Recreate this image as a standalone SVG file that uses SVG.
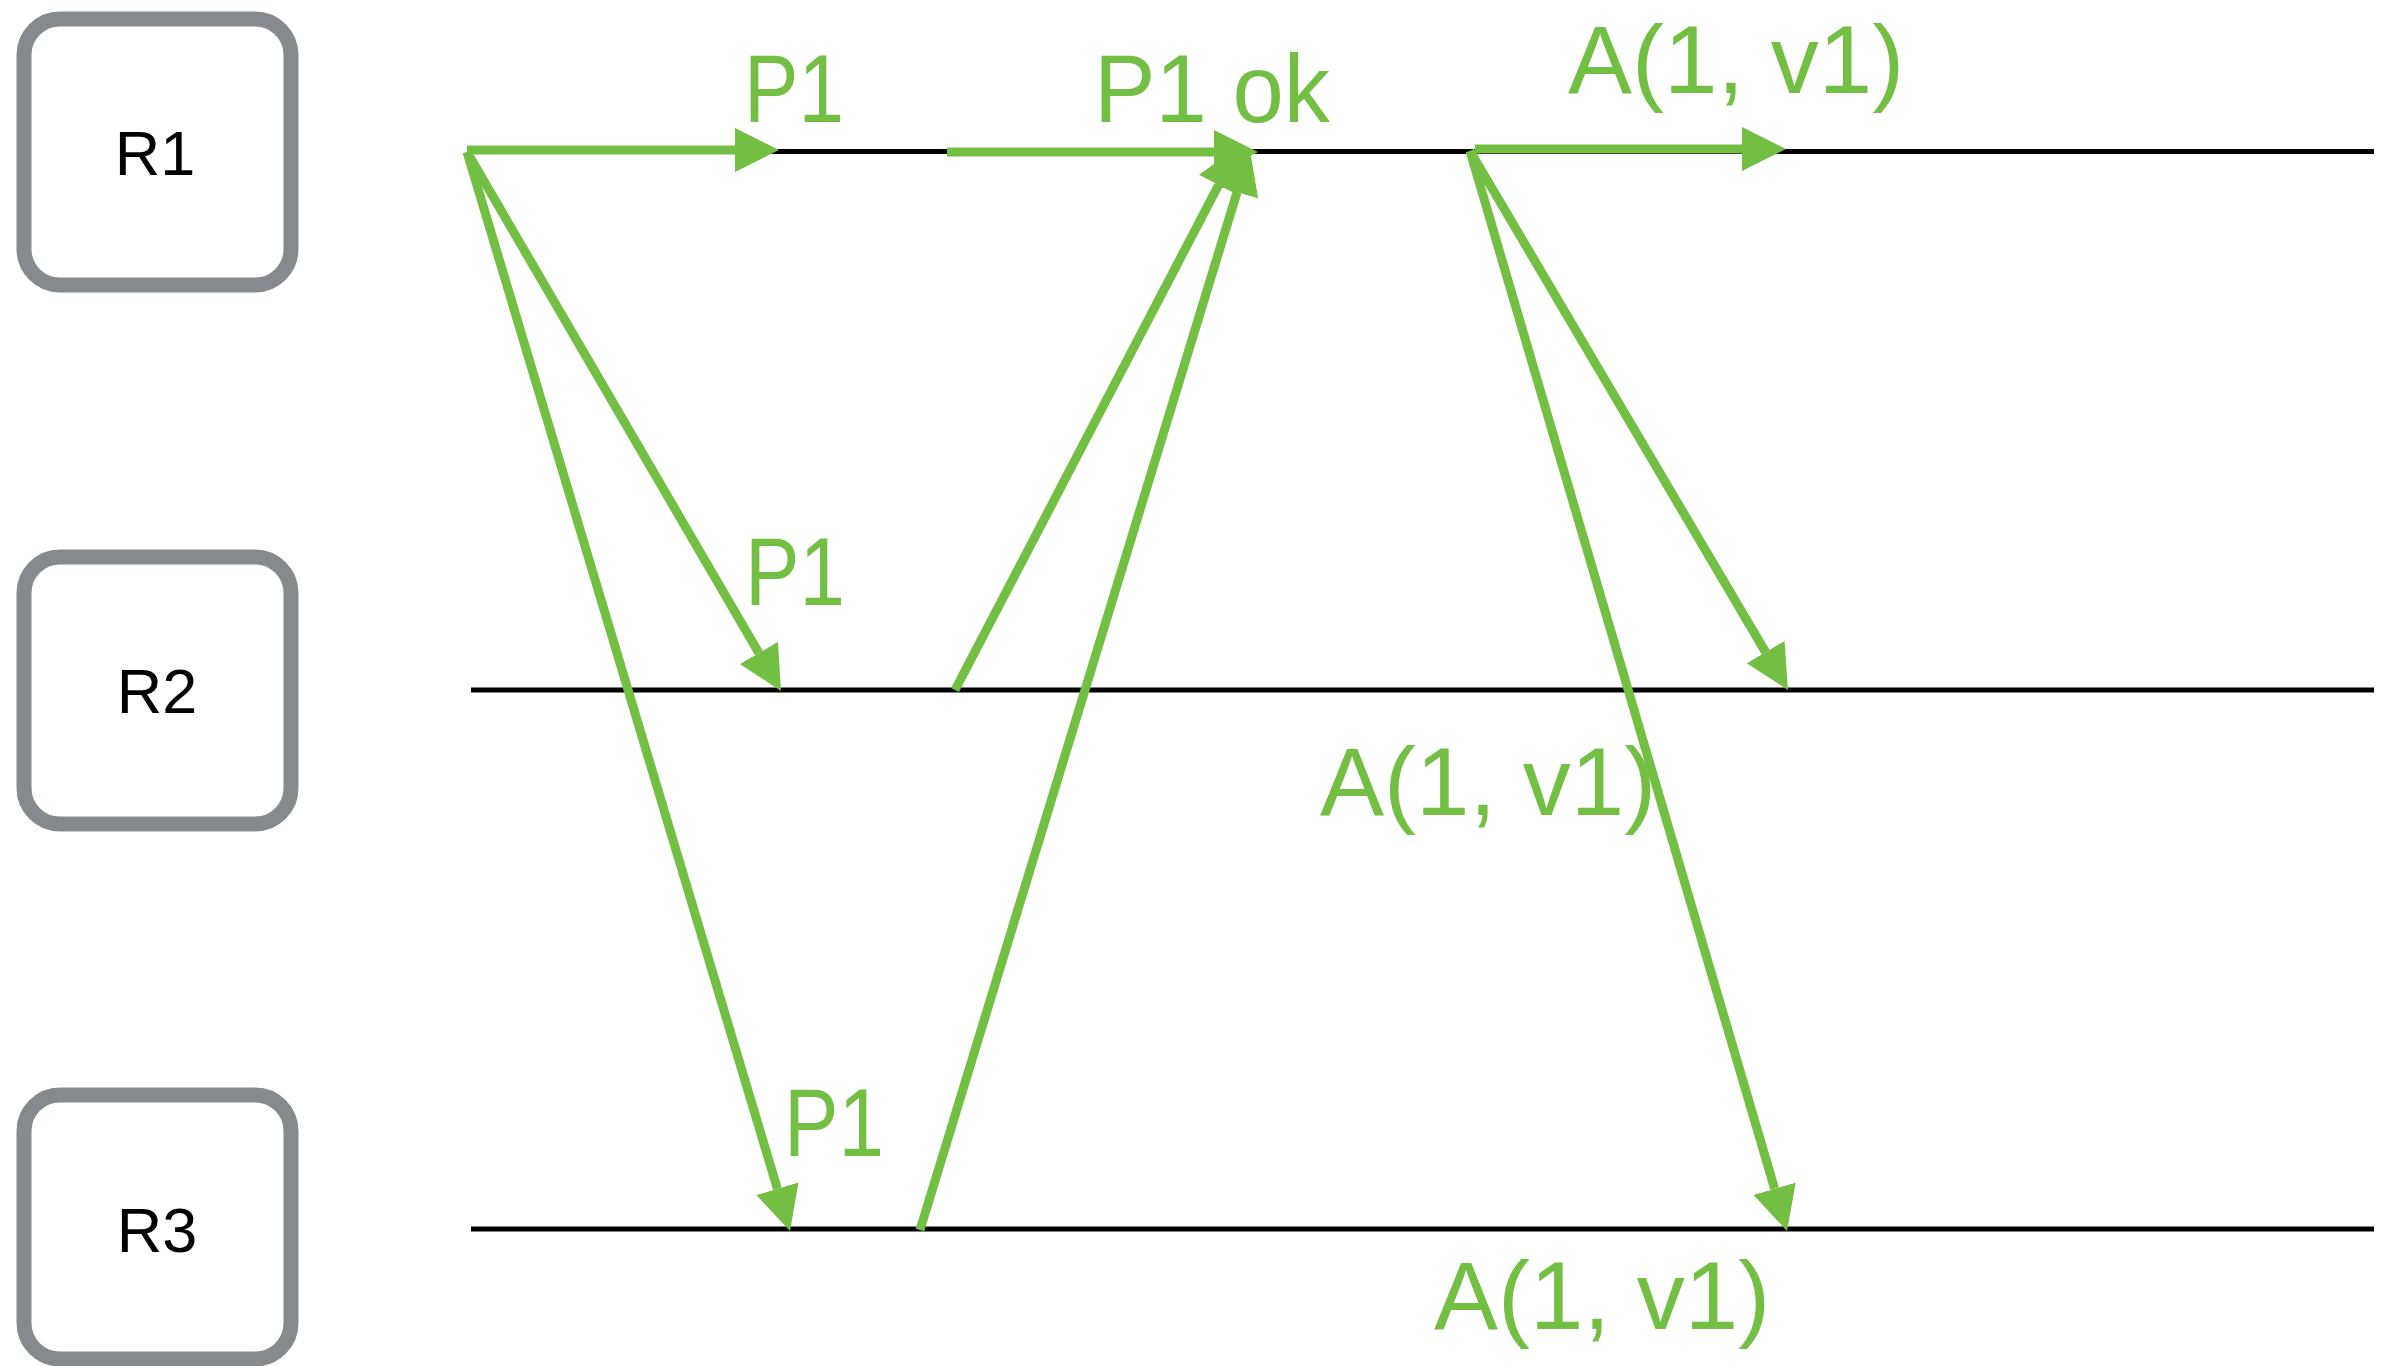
<svg xmlns="http://www.w3.org/2000/svg" width="2389" height="1366" viewBox="0 0 2389 1366">
<style>
.box{fill:#fff;stroke:#86898d;stroke-width:15}
.nl{font-family:"Liberation Sans",Arial,sans-serif;font-size:63px;fill:#000;text-anchor:middle}
.tl{stroke:#000;stroke-width:5;fill:none}
.msg{stroke:#72bf44;stroke-width:9;fill:none;marker-end:url(#ah)}
.lbl{font-family:"Liberation Sans",Arial,sans-serif;font-size:96px;fill:#72bf44}
</style>
<defs>
<marker id="ah" markerUnits="userSpaceOnUse" viewBox="0 -22 44 44" refX="0" refY="0" markerWidth="44" markerHeight="44" orient="auto">
<path d="M0,-22 L44,0 L0,22 Z" fill="#72bf44"/>
</marker>
</defs>
<rect width="2389" height="1366" fill="#fff"/>
<g id="R1"><rect class="box" x="24" y="19" width="267" height="266" rx="36"/><text class="nl" x="155" y="175">R1</text></g>
<g id="R2"><rect class="box" x="24" y="557" width="267" height="267" rx="36"/><text class="nl" x="157" y="713">R2</text></g>
<g id="R3"><rect class="box" x="24" y="1095" width="267" height="264" rx="36"/><text class="nl" x="157" y="1252">R3</text></g>
<g id="timelines">
<line class="tl" x1="469" y1="151.5" x2="2374" y2="151.5"/>
<line class="tl" x1="471" y1="690" x2="2374" y2="690"/>
<line class="tl" x1="471" y1="1229" x2="2374" y2="1229"/>
</g>
<g id="connectors">
<line class="msg" x1="467" y1="150" x2="735" y2="150"/>
<line class="msg" x1="467" y1="152" x2="758.9" y2="653"/>
<line class="msg" x1="467" y1="152" x2="777.4" y2="1188.8"/>
<line class="msg" x1="947" y1="152" x2="1214" y2="152"/>
<line class="msg" x1="955" y1="690" x2="1218.6" y2="185"/>
<line class="msg" x1="920" y1="1230" x2="1237.1" y2="192.1"/>
<line class="msg" x1="1475" y1="149" x2="1742" y2="149"/>
<line class="msg" x1="1470" y1="151" x2="1765.6" y2="652.1"/>
<line class="msg" x1="1470" y1="151" x2="1774.6" y2="1188.8"/>
</g>
<g id="labels">
<text class="lbl" x="744" y="122" textLength="100" lengthAdjust="spacingAndGlyphs">P1</text>
<text class="lbl" x="1094" y="122" textLength="236" lengthAdjust="spacingAndGlyphs">P1 ok</text>
<text class="lbl" x="1568" y="93">A(1, v1)</text>
<text class="lbl" x="745" y="605" textLength="100" lengthAdjust="spacingAndGlyphs">P1</text>
<text class="lbl" x="1320" y="815">A(1, v1)</text>
<text class="lbl" x="784" y="1156" textLength="100" lengthAdjust="spacingAndGlyphs">P1</text>
<text class="lbl" x="1434" y="1329">A(1, v1)</text>
</g>
</svg>
